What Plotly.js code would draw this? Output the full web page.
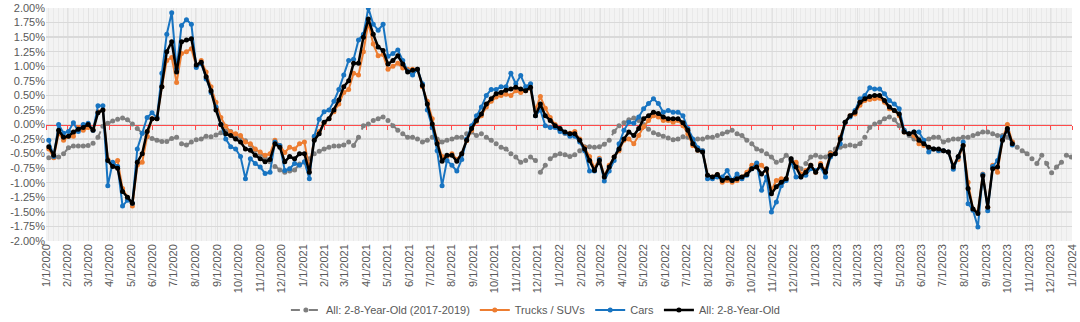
<!DOCTYPE html>
<html>
<head>
<meta charset="utf-8">
<script src="https://cdn.plot.ly/plotly-3.0.1.min.js"></script>
<style>html,body{margin:0;padding:0;background:#fff;}#chart{width:1080px;height:322px;}</style>
</head>
<body>
<div id="chart"></div>
<script>
// Weekly series start date (first observation) – values in percent
const startDate = '2020-01-05';

const seriesNames = ['All: 2-8-Year-Old (2017-2019)', 'Trucks / SUVs', 'Cars', 'All: 2-8-Year-Old'];

const allValues = [
-0.38,-0.53,-0.10,-0.22,-0.20,-0.13,-0.08,-0.05,0.00,-0.10,
0.20,0.25,-0.62,-0.72,-0.75,-1.15,-1.25,-1.35,-0.65,-0.50,
-0.12,0.10,0.10,0.65,1.25,1.42,0.90,1.42,1.45,1.47,
1.02,1.07,0.82,0.58,0.25,0.00,-0.16,-0.19,-0.25,-0.30,
-0.42,-0.44,-0.53,-0.59,-0.64,-0.60,-0.33,-0.39,-0.64,-0.55,
-0.59,-0.50,-0.50,-0.82,-0.27,-0.16,0.04,0.10,0.25,0.42,
0.65,0.75,1.05,1.05,
1.50,1.81,1.55,1.33,1.27,1.04,1.10,1.18,1.04,0.90,
0.93,0.95,0.67,0.35,0.01,-0.33,-0.63,-0.53,-0.53,-0.63,
-0.50,-0.27,-0.07,0.07,0.18,0.35,0.44,0.53,0.55,0.59,
0.61,0.64,0.61,0.58,0.64,0.15,0.35,0.15,0.07,-0.02,
-0.07,-0.13,-0.16,-0.16,-0.27,-0.42,-0.62,-0.79,-0.62,-0.90,
-0.73,-0.56,-0.42,-0.25,-0.13,-0.19,-0.07,0.10,0.15,0.21,
0.19,0.13,0.10,0.10,0.10,0.03,-0.10,-0.33,-0.44,-0.47,
-0.87,-0.90,-0.86,-0.96,-0.92,-0.96,-0.93,-0.90,-0.86,-0.76,
-0.73,-0.85,-0.76,-1.19,-1.07,-0.99,-0.93,-0.59,-0.73,-0.90,
-0.82,-0.70,-0.82,-0.70,-0.82,-0.53,-0.50,-0.25,0.04,0.15,
0.21,0.38,0.44,0.48,0.50,0.50,0.41,0.30,0.24,0.18,
-0.13,-0.16,-0.13,-0.27,-0.33,-0.39,-0.42,-0.42,-0.45,-0.47,
-0.73,-0.55,-0.36,-1.10,-1.45,-1.53,-0.88,-1.42,-0.76,-0.73,
-0.27,-0.07,-0.33];

const carsValues = [
-0.27,-0.55,0.00,-0.15,-0.12,0.03,-0.12,0.00,0.02,-0.10,
0.32,0.32,-1.05,-0.65,-0.72,-1.40,-1.30,-1.35,-0.42,-0.15,
0.12,0.20,0.12,0.88,1.55,1.92,0.95,1.70,1.80,1.72,
0.98,1.05,0.78,0.55,0.30,0.00,-0.25,-0.38,-0.42,-0.55,
-0.93,-0.59,-0.67,-0.73,-0.84,-0.82,-0.30,-0.36,-0.79,-0.76,
-0.67,-0.70,-0.64,-0.93,-0.20,0.09,0.22,0.25,0.40,0.60,
0.85,1.10,1.12,1.45,
1.55,2.00,1.72,1.62,1.72,1.17,1.22,1.28,1.10,0.92,
0.85,0.95,0.70,0.25,-0.05,-0.45,-1.05,-0.62,-0.70,-0.80,
-0.60,-0.25,-0.02,0.15,0.30,0.50,0.60,0.60,0.65,0.65,
0.88,0.70,0.84,0.65,0.70,0.15,0.25,-0.02,-0.05,-0.05,
-0.12,-0.15,-0.20,-0.20,-0.30,-0.45,-0.80,-0.80,-0.60,-0.97,
-0.80,-0.62,-0.33,-0.10,0.04,0.02,0.13,0.27,0.36,0.44,
0.36,0.21,0.24,0.21,0.21,0.15,-0.07,-0.25,-0.40,-0.45,
-0.93,-0.93,-0.90,-0.90,-0.79,-0.96,-0.85,-0.93,-0.87,-0.76,
-0.66,-1.13,-0.90,-1.50,-1.33,-1.05,-0.96,-0.62,-0.90,-0.90,
-0.87,-0.76,-0.79,-0.73,-0.90,-0.56,-0.50,-0.33,0.04,0.13,
0.24,0.44,0.50,0.63,0.61,0.61,0.53,0.41,0.35,0.27,
-0.10,-0.16,-0.13,-0.13,-0.27,-0.47,-0.42,-0.45,-0.45,-0.47,
-0.77,-0.56,-0.30,-1.36,-1.47,-1.76,-0.86,-1.48,-0.72,-0.62,
-0.22,-0.10,-0.35];

const trucksValues = [
-0.42,-0.57,-0.15,-0.27,-0.20,-0.20,-0.05,-0.10,-0.05,-0.08,
0.22,0.25,-0.60,-0.70,-0.62,-1.10,-1.25,-1.40,-0.70,-0.65,
-0.20,0.10,0.10,0.65,1.10,1.15,0.72,1.22,1.25,1.30,
1.00,1.10,0.90,0.65,0.38,0.12,-0.03,-0.13,-0.16,-0.19,
-0.30,-0.33,-0.42,-0.47,-0.53,-0.50,-0.27,-0.36,-0.48,-0.39,
-0.42,-0.33,-0.30,-0.77,-0.22,-0.12,0.02,0.10,0.22,0.35,
0.55,0.60,0.88,0.85,
1.25,1.75,1.38,1.18,1.20,0.95,1.00,1.05,0.97,0.95,
0.95,0.95,0.65,0.40,0.10,-0.30,-0.55,-0.55,-0.50,-0.60,
-0.50,-0.28,-0.10,0.05,0.15,0.30,0.40,0.47,0.50,0.52,
0.50,0.58,0.55,0.58,0.62,0.25,0.48,0.28,0.12,0.00,
-0.10,-0.15,-0.15,-0.12,-0.25,-0.40,-0.55,-0.75,-0.58,-0.88,
-0.70,-0.56,-0.45,-0.27,-0.25,-0.33,-0.19,-0.04,0.07,0.15,
0.13,0.07,0.07,0.04,0.07,-0.02,-0.16,-0.36,-0.44,-0.45,
-0.87,-0.90,-0.86,-0.99,-0.96,-0.99,-0.96,-0.90,-0.82,-0.70,
-0.67,-0.70,-0.79,-1.13,-0.96,-0.93,-0.93,-0.62,-0.65,-0.85,
-0.79,-0.70,-0.82,-0.67,-0.79,-0.50,-0.49,-0.22,0.04,0.15,
0.18,0.33,0.41,0.43,0.44,0.45,0.38,0.27,0.24,0.15,
-0.13,-0.16,-0.19,-0.33,-0.36,-0.39,-0.42,-0.45,-0.45,-0.47,
-0.70,-0.60,-0.36,-0.99,-1.45,-1.50,-0.85,-1.42,-0.70,-0.82,
-0.25,0.00,-0.30];

// 2017-2019 benchmark, shown for each calendar year
const benchmark2020 = [
-0.57,-0.56,-0.56,-0.50,-0.40,-0.37,-0.37,-0.37,-0.36,-0.32,
-0.22,-0.03,0.02,0.06,0.09,0.11,0.08,0.01,-0.07,-0.15,
-0.21,-0.24,-0.27,-0.29,-0.29,-0.24,-0.22,-0.33,-0.35,-0.30,
-0.26,-0.25,-0.20,-0.21,-0.18,-0.14,-0.11,-0.12,-0.17,-0.22,
-0.28,-0.35,-0.44,-0.50,-0.57,-0.64,-0.72,-0.78,-0.82,-0.80,
-0.78,-0.68];
const benchmark2021 = [
-0.65,-0.59,-0.50,-0.46,-0.42,-0.39,-0.37,-0.37,-0.35,-0.30,
-0.36,-0.22,-0.02,0.01,0.07,0.10,0.13,0.07,-0.02,-0.10,
-0.16,-0.22,-0.22,-0.25,-0.30,-0.27,-0.22,-0.25,-0.30,-0.27,
-0.25,-0.22,-0.22,-0.16,-0.13,-0.19,-0.16,-0.22,-0.27,-0.33,
-0.39,-0.42,-0.50,-0.56,-0.65,-0.62,-0.56,-0.62,-0.82,-0.70,
-0.59,-0.53];
const benchmark2022 = [
-0.50,-0.52,-0.55,-0.52,-0.45,-0.38,-0.38,-0.39,-0.38,-0.34,
-0.27,-0.12,-0.02,0.03,0.08,0.11,0.07,0.00,-0.08,-0.14,
-0.17,-0.20,-0.23,-0.26,-0.25,-0.21,-0.22,-0.27,-0.25,-0.25,
-0.22,-0.22,-0.19,-0.16,-0.13,-0.10,-0.16,-0.19,-0.27,-0.33,
-0.42,-0.45,-0.50,-0.56,-0.65,-0.62,-0.53,-0.59,-0.67,-0.76,
-0.67,-0.56];
const benchmark2023 = [
-0.53,-0.56,-0.56,-0.48,-0.42,-0.39,-0.37,-0.35,-0.37,-0.33,
-0.22,-0.05,0.01,0.04,0.10,0.13,0.08,-0.02,-0.10,-0.19,
-0.25,-0.25,-0.27,-0.25,-0.22,-0.22,-0.30,-0.27,-0.25,-0.25,
-0.22,-0.22,-0.19,-0.16,-0.13,-0.13,-0.16,-0.19,-0.19,-0.22,
-0.30,-0.39,-0.45,-0.50,-0.59,-0.67,-0.53,-0.67,-0.83,-0.73,
-0.65,-0.53,-0.56];

const xTickLabels = [
'1/1/2020','2/1/2020','3/1/2020','4/1/2020','5/1/2020','6/1/2020','7/1/2020','8/1/2020','9/1/2020','10/1/2020','11/1/2020','12/1/2020',
'1/1/2021','2/1/2021','3/1/2021','4/1/2021','5/1/2021','6/1/2021','7/1/2021','8/1/2021','9/1/2021','10/1/2021','11/1/2021','12/1/2021',
'1/1/2022','2/1/2022','3/1/2022','4/1/2022','5/1/2022','6/1/2022','7/1/2022','8/1/2022','9/1/2022','10/1/2022','11/1/2022','12/1/2022',
'1/1/2023','2/1/2023','3/1/2023','4/1/2023','5/1/2023','6/1/2023','7/1/2023','8/1/2023','9/1/2023','10/1/2023','11/1/2023','12/1/2023',
'1/1/2024'];
const yTickVals = [-2,-1.75,-1.5,-1.25,-1,-0.75,-0.5,-0.25,0,0.25,0.5,0.75,1,1.25,1.5,1.75,2];
const yTickText = ['-2.00%','-1.75%','-1.50%','-1.25%','-1.00%','-0.75%','-0.50%','-0.25%','0.00%','0.25%','0.50%','0.75%','1.00%','1.25%','1.50%','1.75%','2.00%'];

// ---- build ----
function weeklyDates(n){
  const t0 = Date.parse(startDate + 'T00:00:00Z');
  const out = [];
  for (let i = 0; i < n; i++) out.push(new Date(t0 + i*7*86400000).toISOString().slice(0,10));
  return out;
}
function labelToIso(s){
  const p = s.split('/');
  return p[2] + '-' + p[0].padStart(2,'0') + '-' + p[1].padStart(2,'0');
}
const benchmark = benchmark2020.concat(benchmark2021, benchmark2022, benchmark2023);
const xTickVals = xTickLabels.map(labelToIso);
const xRange = ['2020-01-01','2024-01-01'];

const FONT = 'Liberation Sans, Arial, sans-serif';
const traces = [
  {name: seriesNames[0], x: weeklyDates(benchmark.length), y: benchmark, type:'scatter', mode:'lines+markers',
   xaxis:'x', yaxis:'y',
   line:{color:'#7f7f7f', width:2, dash:'dash'}, marker:{color:'#7f7f7f', size:5}},
  {name: seriesNames[1], x: weeklyDates(trucksValues.length), y: trucksValues, type:'scatter', mode:'lines+markers',
   xaxis:'x2', yaxis:'y',
   line:{color:'#ed7d31', width:2}, marker:{color:'#ed7d31', size:5}},
  {name: seriesNames[2], x: weeklyDates(carsValues.length), y: carsValues, type:'scatter', mode:'lines+markers',
   xaxis:'x2', yaxis:'y',
   line:{color:'#1874c1', width:2}, marker:{color:'#1874c1', size:5}},
  {name: seriesNames[3], x: weeklyDates(allValues.length), y: allValues, type:'scatter', mode:'lines+markers',
   xaxis:'x2', yaxis:'y',
   line:{color:'#000000', width:2.5}, marker:{color:'#000000', size:5}}
];

const layout = {
  width:1080, height:322,
  margin:{l:46, r:8, t:8, b:81, autoexpand:false},
  paper_bgcolor:'#ffffff', plot_bgcolor:'#f3f3f3',
  font:{family:FONT, size:11, color:'#595959'},
  showlegend:true,
  legend:{orientation:'h', x:0.477, xanchor:'center', y:-0.296, yanchor:'middle',
          font:{family:FONT, size:11, color:'#595959'}, itemwidth:30, tracegroupgap:0, traceorder:'normal'},
  xaxis:{type:'date', range:xRange, tickvals:xTickVals, ticktext:xTickLabels, automargin:false,
         tickangle:-90, tickfont:{family:FONT, size:11, color:'#595959'},
         showgrid:true, gridcolor:'#e2e2e2', gridwidth:1, zeroline:false, showline:false, ticks:'',
         minor:{dtick:7*86400000, tick0:'2020-01-05', showgrid:true, gridcolor:'#e9e9e9', gridwidth:1},
         fixedrange:true},
  xaxis2:{type:'date', overlaying:'x', anchor:'free', position:0.5, range:xRange, automargin:false,
          tickvals:xTickVals, showticklabels:false, showgrid:false, zeroline:false, layer:'below traces',
          showline:true, linecolor:'#ff4b4b', linewidth:1, ticks:'outside', ticklen:4, tickcolor:'#ff4b4b', tickwidth:1,
          fixedrange:true},
  yaxis:{range:[-2,2], tickvals:yTickVals, ticktext:yTickText, tickfont:{family:FONT, size:11, color:'#595959'},
         automargin:false, showgrid:true, gridcolor:'#d9d9d9', gridwidth:1.3, zeroline:false, showline:false, ticks:'', fixedrange:true}
};

Plotly.newPlot('chart', traces, layout, {displayModeBar:false, staticPlot:true});
</script>
</body>
</html>
